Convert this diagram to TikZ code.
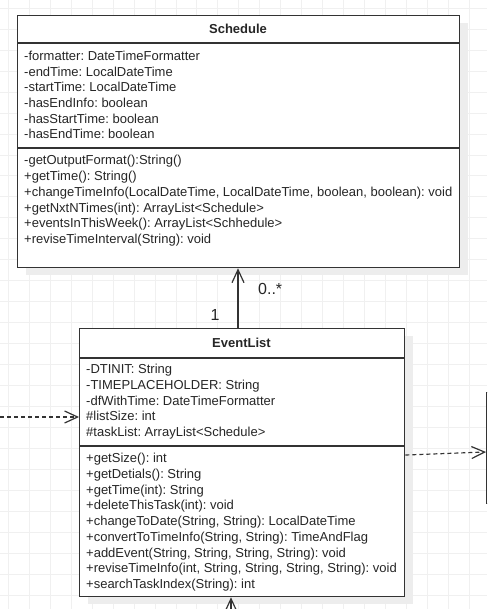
\documentclass[tikz,border=0pt]{standalone}
\usepackage{fontspec}
\setmainfont{Liberation Sans}
\usetikzlibrary{arrows.meta}
\frenchspacing
\begin{document}
\begin{tikzpicture}[x=1pt,y=-1pt,
  gridline/.style={draw=black!6, line width=0.8pt},
  classbox/.style={draw=black!80, line width=1.3pt, fill=white, inner sep=0pt, anchor=north west},
  shadowbox/.style={fill=black!7, draw=none},
  member/.style={anchor=base west, inner sep=0pt, font=\fontsize{13}{15.7}\selectfont, text=black!85},
  classtitle/.style={anchor=base, inner sep=0pt, font=\fontsize{13}{15.7}\selectfont\bfseries, text=black!85},
  divider/.style={draw=black!80, line width=1.3pt},
  mult/.style={inner sep=0pt, font=\fontsize{16}{19}\selectfont, text=black!85},
  assoc/.style={draw=black!80, line width=1.2pt, -{Straight Barb[length=13pt,width=12pt]}},
  dep/.style={assoc, dash pattern=on 4pt off 3pt},
]
\useasboundingbox (0,0) rectangle (487,609);
\clip (0,0) rectangle (487,609);
\fill[white] (0,0) rectangle (487,609);
% grid
\foreach \i in {0,...,23} \draw[gridline] ({8.3+20.95*\i},0) -- ({8.3+20.95*\i},609);
\foreach \i in {0,...,29} \draw[gridline] (0,{8.3+20.95*\i}) -- (487,{8.3+20.95*\i});

% shadows
\fill[shadowbox] (26,23) rectangle (468,275);
\fill[shadowbox] (88,336) rectangle (413,604);

% Schedule
\node[classbox, minimum width=442pt, minimum height=252pt] (schedule) at (17,15) {};
\draw[divider] (schedule.west |- 0,43) -- (schedule.east |- 0,43);
\draw[divider] (schedule.west |- 0,148) -- (schedule.east |- 0,148);
\node[classtitle] (schtitle) at (238,33.5) {Schedule};
\foreach \txt [count=\i from 0] in {-formatter: DateTimeFormatter,-endTime: LocalDateTime,-startTime: LocalDateTime,-hasEndInfo: boolean,-hasStartTime: boolean,-hasEndTime: boolean}
  \node[member] (sa\i) at (24,{60.7+15.65*\i}) {\txt};
\foreach \txt [count=\i from 0] in {-getOutputFormat():String(),+getTime(): String(),{+changeTimeInfo(LocalDateTime, LocalDateTime, boolean, boolean): void},+getNxtNTimes(int): ArrayList<Schedule>,+eventsInThisWeek(): ArrayList<Schhedule>,+reviseTimeInterval(String): void}
  \node[member] (sm\i) at (24,{164.7+15.8*\i}) {\txt};

% EventList
\node[classbox, minimum width=325pt, minimum height=268pt] (eventlist) at (79,328) {};
\draw[divider] (eventlist.west |- 0,358) -- (eventlist.east |- 0,358);
\draw[divider] (eventlist.west |- 0,446) -- (eventlist.east |- 0,446);
\node[classtitle] (evtitle) at (241.5,347.5) {EventList};
\foreach \txt [count=\i from 0] in {-DTINIT: String,-TIMEPLACEHOLDER: String,-dfWithTime: DateTimeFormatter,\#listSize: int,\#taskList: ArrayList<Schedule>}
  \node[member] (ea\i) at (86,{373.7+15.7*\i}) {\txt};
\foreach \txt [count=\i from 0] in {+getSize(): int,+getDetials(): String,+getTime(int): String,+deleteThisTask(int): void,{+changeToDate(String, String): LocalDateTime},{+convertToTimeInfo(String, String): TimeAndFlag},{+addEvent(String, String, String, String): void},{+reviseTimeInfo(int, String, String, String, String): void},+searchTaskIndex(String): int}
  \node[member] (em\i) at (86,{462.7+15.75*\i}) {\txt};

% partially visible class on the right
\node[classbox, minimum width=120pt, minimum height=111pt] (other) at (486,392) {};

% connectors
\coordinate (assocx) at (238,0);
\draw[assoc] (assocx |- eventlist.north) -- (assocx |- schedule.south);
\node[mult, anchor=west] (m0) at (258,289) {0..*};
\node[mult] (m1) at (215,315) {1};

\coordinate (lend) at (0,417);
\draw[dep] (lend) -- (lend -| eventlist.west);

\draw[dep] (eventlist.east |- 0,455) -- (other.west |- 0,452);

\coordinate (bend) at (231,650);
\draw[assoc] (bend) -- (bend |- eventlist.south);
\end{tikzpicture}
\end{document}
